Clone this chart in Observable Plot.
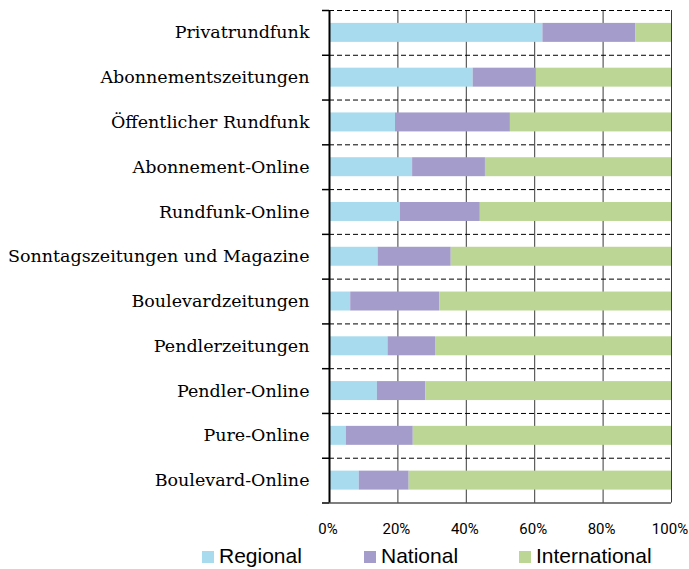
<!DOCTYPE html>
<html>
<head>
<meta charset="utf-8">
<script src="https://cdn.jsdelivr.net/npm/d3@7"></script>
<script src="https://cdn.jsdelivr.net/npm/@observablehq/plot@0.6"></script>
<style>
  body { margin: 0; background: #fff; }
  #wrap { position: relative; width: 689px; height: 569px; }
  .legend { position: absolute; top: 544px; left: 0; width: 689px; height: 24px; font-family: "Liberation Sans", Arial, sans-serif; font-size: 21px; line-height: 24px; color: #000; }
  .item { position: absolute; top: 0; display: flex; align-items: center; height: 24px; }
  .sw { width: 12px; height: 12px; margin-right: 5px; margin-top: 2px; }
</style>
</head>
<body>
<div id="wrap"></div>
<script>
const categories = ["Privatrundfunk","Abonnementszeitungen","Öffentlicher Rundfunk","Abonnement-Online","Rundfunk-Online","Sonntagszeitungen und Magazine","Boulevardzeitungen","Pendlerzeitungen","Pendler-Online","Pure-Online","Boulevard-Online"];
const regional = [62.4, 42.0, 19.3, 24.3, 20.7, 14.2, 6.2, 17.1, 14.0, 4.9, 8.7];
const national = [27.1, 18.5, 33.6, 21.3, 23.4, 21.4, 26.0, 13.9, 14.2, 19.6, 14.6];
const international = [10.5, 39.5, 47.1, 54.4, 55.9, 64.4, 67.8, 69.0, 71.8, 75.5, 76.7];
const seriesNames = ["Regional", "National", "International"];
const seriesColors = ["#a8dbed", "#a49dcc", "#bcd795"];
const xTicks = [0, 20, 40, 60, 80, 100];

const rows = [];
categories.forEach((c, i) => {
  rows.push({cat: c, series: "Regional", value: regional[i]});
  rows.push({cat: c, series: "National", value: national[i]});
  rows.push({cat: c, series: "International", value: international[i]});
});

const W = 689, H = 540, mT = 10, mB = 37.5, mL = 329, mR = 18;
const step = (H - mT - mB) / categories.length;

const chart = Plot.plot({
  width: W, height: H,
  marginTop: mT, marginBottom: mB, marginLeft: mL, marginRight: mR,
  style: {fontFamily: "Roboto, sans-serif", fontSize: "15px", color: "#000", background: "#fff"},
  x: {domain: [0, 100], ticks: xTicks, tickFormat: d => d + "%", tickSize: 0, tickPadding: 20, label: null},
  y: {domain: categories, padding: 0, round: false, tickSize: 0, tickPadding: 20, label: null},
  color: {domain: seriesNames, range: seriesColors},
  marks: [
    Plot.ruleX(xTicks.slice(1), {stroke: "#3a3a3a", strokeWidth: 1}),
    Plot.ruleY(categories, {y: d => d, dy: -step / 2, stroke: "#000", strokeWidth: 1, strokeDasharray: "5,3"}),
    Plot.barX(rows, Plot.stackX({x: "value", y: "cat", fill: "series", order: seriesNames, insetTop: 12.9, insetBottom: 12.9})),
    Plot.ruleY(categories, {y: d => d, dy: -step / 2, x1: 0, x2: 0, insetLeft: -7, stroke: "#000", strokeWidth: 1.5}),
    Plot.ruleY(categories.slice(-1), {y: d => d, dy: step / 2, x1: 0, x2: 0, insetLeft: -7, stroke: "#000", strokeWidth: 1.5}),
    Plot.ruleX(xTicks, {y1: categories[categories.length - 1], y2: categories[categories.length - 1], dy: step / 2, insetBottom: -5, stroke: "#000", strokeWidth: 1}),
    Plot.ruleY(categories.slice(-1), {y: d => d, dy: step / 2, stroke: "#000", strokeWidth: 1.2}),
    Plot.ruleX([0], {stroke: "#000", strokeWidth: 2}),
    Plot.axisY({tickSize: 0, tickPadding: 20, fontFamily: "DejaVu Serif, serif", fontSize: 17.5}),
    Plot.axisX({ticks: xTicks, tickFormat: d => d + "%", tickSize: 0, tickPadding: 20, fontSize: 15, dx: -1.5})
  ]
});
const wrap = document.getElementById("wrap");
wrap.appendChild(chart);

const legend = document.createElement("div");
legend.className = "legend";
const lefts = [202, 364, 519];
seriesNames.forEach((s, i) => {
  const it = document.createElement("div");
  it.className = "item";
  it.style.left = lefts[i] + "px";
  const sw = document.createElement("span");
  sw.className = "sw";
  sw.style.background = seriesColors[i];
  const t = document.createElement("span");
  t.textContent = s;
  it.appendChild(sw); it.appendChild(t);
  legend.appendChild(it);
});
wrap.appendChild(legend);
</script>
</body>
</html>
